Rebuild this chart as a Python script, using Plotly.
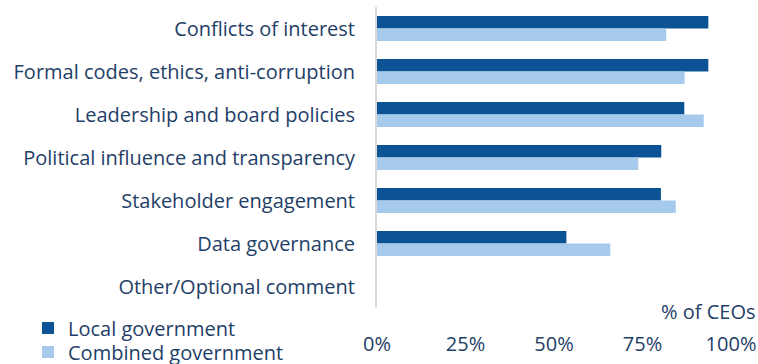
import plotly.graph_objects as go

categories = [
    "Conflicts of interest",
    "Formal codes, ethics, anti-corruption",
    "Leadership and board policies",
    "Political influence and transparency",
    "Stakeholder engagement",
    "Data governance",
    "Other/Optional comment",
]
local_gov = [93.6, 93.6, 86.8, 80.3, 80.2, 53.5, 0]
combined_gov = [81.7, 86.9, 92.3, 73.8, 84.4, 65.9, 0]
tick_vals = [0, 25, 50, 75, 100]
tick_text = ["0%", "25%", "50%", "75%", "100%"]

TEXT = "#1f4068"
FONT = "Open Sans"
SIZE = 20

fig = go.Figure()
fig.add_trace(go.Bar(
    y=categories, x=local_gov, orientation="h", name="Local government",
    marker=dict(color="#0b5394", line=dict(width=0)), legend="legend",
))
fig.add_trace(go.Bar(
    y=categories, x=combined_gov, orientation="h", name="Combined government",
    marker=dict(color="#a6caec", line=dict(width=0)), legend="legend2",
))

legend_common = dict(
    orientation="v", xref="container", yref="container",
    xanchor="left", yanchor="middle",
    font=dict(family=FONT, size=SIZE, color=TEXT),
    bgcolor="rgba(0,0,0,0)", borderwidth=0,
)

fig.update_layout(
    width=758, height=364,
    margin=dict(l=377, r=27, t=7, b=56, autoexpand=False),
    paper_bgcolor="white", plot_bgcolor="white",
    barmode="group", bargap=0.42, bargroupgap=0,
    font=dict(family=FONT, size=SIZE, color=TEXT),
    showlegend=True,
    legend=dict(x=28 / 758, y=1 - 328 / 364, **legend_common),
    legend2=dict(x=28 / 758, y=1 - 352 / 364, **legend_common),
    xaxis=dict(
        range=[0, 100], tickvals=tick_vals, ticktext=tick_text,
        showgrid=False, zeroline=False, showline=False, ticks="",
        ticklabelstandoff=22, automargin=False,
    ),
    yaxis=dict(
        autorange="reversed", showgrid=False, zeroline=False,
        showline=True, linecolor="#d9d9d9", linewidth=2,
        ticks="", ticklabelstandoff=16, automargin=False,
    ),
    annotations=[dict(
        text="% of CEOs", xref="paper", yref="paper", x=1.073, y=-0.01,
        xanchor="right", yanchor="middle", showarrow=False,
        font=dict(family=FONT, size=SIZE, color=TEXT),
    )],
)

fig.write_html("out.html")
